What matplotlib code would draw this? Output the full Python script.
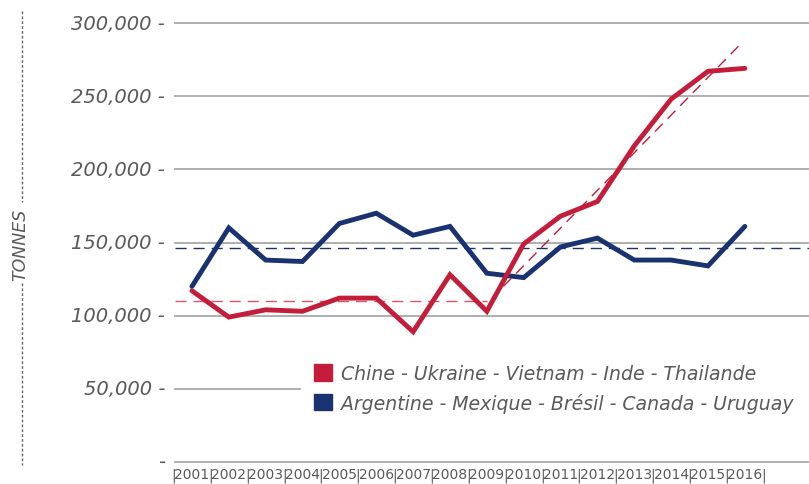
import matplotlib
matplotlib.use("Agg")
import matplotlib.pyplot as plt
from matplotlib.patches import Patch
from matplotlib.lines import Line2D

years = list(range(2001, 2017))
red_vals = [117000, 99000, 104000, 103000, 112000, 112000, 89000, 128000,
            103000, 149000, 168000, 178000, 216000, 248000, 267000, 269000]
blue_vals = [120000, 160000, 138000, 137000, 163000, 170000, 155000, 161000,
             129000, 126000, 147000, 153000, 138000, 138000, 134000, 161000]
red_avg_x = [2000.55, 2009.0]
red_avg_y = [110000, 110000]
blue_avg_y = 146000
red_trend_x = [2009.45, 2015.9]
red_trend_y = [120000, 286000]
yticks = [0, 50000, 100000, 150000, 200000, 250000, 300000]
red_label = "Chine - Ukraine - Vietnam - Inde - Thailande"
blue_label = "Argentine - Mexique - Brésil - Canada - Uruguay"

red = "#c41d3a"
blue = "#1a3370"
grey_txt = "#5a5a5a"
grid_c = "#a8a8a8"

W, H = 809, 485
fig = plt.figure(figsize=(W / 100, H / 100), dpi=100)
ax = fig.add_axes([175 / W, (H - 463) / H, (W - 175) / W, (463 - 24) / H])
ax.set_xlim(2000.54, 2017.74)
ax.set_ylim(0, 300000)
ax.axis("off")

# gridlines (the 50,000 one stops where the legend starts)
for v in yticks:
    xe = 2000.54 + (300 - 175) / 36.87 if v == 50000 else 2017.74
    ax.plot([2000.54, xe], [v, v], color=grid_c, lw=1.3, zorder=1,
            clip_on=False)
    lab = "-" if v == 0 else f"{v:,} -"
    fig.text(165 / W, ax.transData.transform((0, v))[1] / H, lab,
             ha="right", va="center", fontsize=14, style="italic",
             color=grey_txt, family="DejaVu Sans")

# average / trend dashed lines
ax.plot([2000.54, 2017.74], [blue_avg_y, blue_avg_y], color=blue, lw=1,
        dashes=(8, 5), zorder=2, clip_on=False)
ax.plot(red_avg_x, red_avg_y, color="#d9536b", lw=1, dashes=(8, 5), zorder=2)
ax.plot(red_trend_x, red_trend_y, color=red, lw=1, dashes=(8, 5), zorder=2)

ax.plot(years, blue_vals, color=blue, lw=3.5, zorder=3,
        solid_capstyle="round", solid_joinstyle="miter")
ax.plot(years, red_vals, color=red, lw=3.5, zorder=4,
        solid_capstyle="round", solid_joinstyle="miter")

# year labels with separators
for y in years:
    ax.text(y, -0.028, str(y), transform=ax.get_xaxis_transform(),
            ha="center", va="center", fontsize=10, color=grey_txt,
            family=["Liberation Sans Narrow", "DejaVu Sans"])
for y in range(2000, 2017):
    ax.text(y + 0.5, -0.028, "|", transform=ax.get_xaxis_transform(),
            ha="center", va="center", fontsize=10, color=grey_txt)

# y axis title with dashed rules
fig.text(20 / W, (H - 245) / H, "TONNES", rotation=90, ha="center",
         va="center", fontsize=12.5, style="italic", color=grey_txt,
         family="DejaVu Sans")
fig.add_artist(Line2D([22 / W, 22 / W], [(H - 12) / H, (H - 203) / H],
                      color="#666666", lw=1, dashes=(2, 1.5)))
fig.add_artist(Line2D([22 / W, 22 / W], [(H - 284) / H, (H - 466) / H],
                      color="#666666", lw=1, dashes=(2, 1.5)))

handles = [Patch(facecolor=red, edgecolor=red), Patch(facecolor=blue, edgecolor=blue)]
leg = fig.legend(handles, [red_label, blue_label], loc="upper left",
                 bbox_to_anchor=(299 / W, (H - 350) / H), frameon=True,
                 fancybox=False, edgecolor="white", framealpha=1,
                 prop={"size": 13.6, "style": "italic", "family": "DejaVu Sans"},
                 handlelength=0.95, handleheight=0.95, handletextpad=0.45,
                 labelspacing=0.5, borderpad=0.3)
for t in leg.get_texts():
    t.set_color(grey_txt)

fig.savefig("out.png", dpi=100)
